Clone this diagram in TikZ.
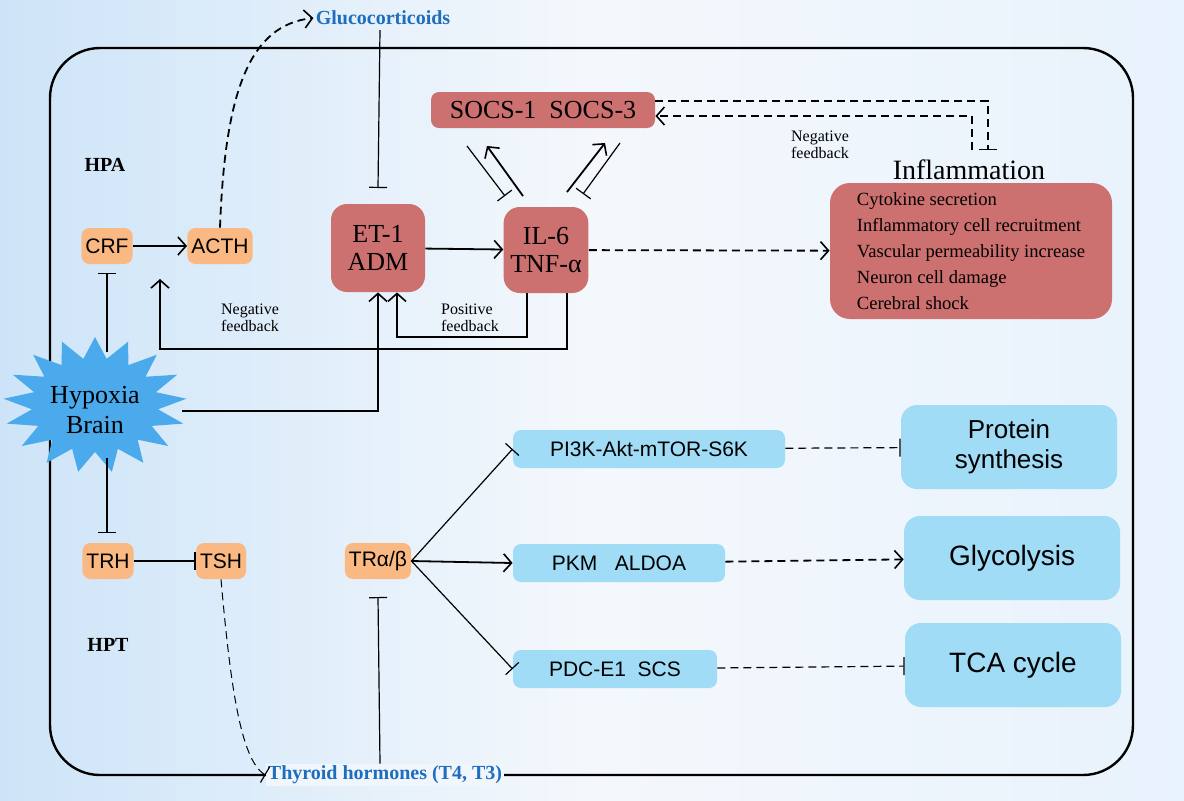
\documentclass[tikz,border=0pt]{standalone}
\usepackage{fontspec}
\setmainfont{Liberation Serif}
\setsansfont{Liberation Sans}
\usetikzlibrary{shapes.geometric, arrows, arrows.meta, positioning}
\definecolor{rosebox}{RGB}{205,112,112}
\definecolor{orangebox}{RGB}{250,185,130}
\definecolor{cyanbox}{RGB}{160,220,245}
\definecolor{starblue}{RGB}{75,170,235}
\definecolor{hormone}{RGB}{30,110,190}
\definecolor{paper}{RGB}{240,246,252}
\tikzstyle{cytokine} = [rectangle, rounded corners=8pt, fill=rosebox, text centered, font=\fontsize{13}{14}\selectfont]
\tikzstyle{gland} = [rectangle, rounded corners=4pt, fill=orangebox, minimum height=18pt, inner xsep=2pt, font=\sffamily\fontsize{10.5}{12}\selectfont]
\tikzstyle{route} = [rectangle, rounded corners=4pt, fill=cyanbox, minimum height=19pt, font=\sffamily\fontsize{10.5}{12}\selectfont]
\tikzstyle{result} = [rectangle, rounded corners=8pt, fill=cyanbox, minimum width=108pt, minimum height=42pt, align=center, font=\sffamily\fontsize{13}{15}\selectfont]
\tikzstyle{note} = [align=left, font=\fontsize{8}{8.5}\selectfont]
\tikzstyle{open} = [line width=0.9pt, -{Straight Barb[length=4pt,width=9pt,line width=0.8pt]}]
\tikzstyle{block} = [line width=0.6pt, -{Bar[width=9pt,line width=0.6pt]}]
\tikzstyle{dotted line} = [dash pattern=on 4pt off 2.5pt]
\begin{document}
\begin{tikzpicture}[x=0.5pt,y=-0.5pt]
\shade[left color={rgb,255:red,205;green,228;blue,248}, right color={rgb,255:red,232;green,242;blue,252}, middle color={rgb,255:red,244;green,248;blue,252}] (0,0) rectangle (1184,800);
\draw[line width=1.2pt, rounded corners=25pt] (50,48) rectangle (1133,775);

% nodes
\node (gluc) [text=hormone, inner sep=1pt, font=\bfseries\fontsize{10}{12}\selectfont] at (383,18) {Glucocorticoids};
\node (thy) [text=hormone, fill=paper, inner sep=1pt, font=\bfseries\fontsize{10}{12}\selectfont] at (385,775) {Thyroid hormones (T4, T3)};
\node [font=\bfseries\fontsize{10}{12}\selectfont] at (105,165) {HPA};
\node [font=\bfseries\fontsize{10}{12}\selectfont] at (108,645) {HPT};
\node (crf) [gland] at (107,246) {CRF};
\node (acth) [gland] at (220,246) {ACTH};
\node (trh) [gland] at (108,561) {TRH};
\node (tsh) [gland] at (221,561) {TSH};
\node (tr) [gland] at (378,561) {TRα/β};
\node [star, star points=17, star point ratio=1.45, fill=starblue, minimum size=68pt, xscale=1.35] at (95,405) {};
\node (hyp) [align=center, font=\fontsize{13}{15}\selectfont, minimum width=90pt] at (95,410) {Hypoxia\\Brain};
\node (et) [cytokine, minimum width=47pt, minimum height=44pt, align=center] at (378,248) {ET-1\\ADM};
\node (il) [cytokine, minimum width=40pt, minimum height=43pt, align=center] at (546,250) {IL-6\\TNF-α};
\node (socs) [cytokine, rounded corners=4pt, minimum width=112pt, minimum height=18pt] at (543,110) {SOCS-1\ \ SOCS-3};
\node (infl) [cytokine, rounded corners=10pt, minimum width=141pt, minimum height=68pt, align=left, font=\fontsize{9.3}{13}\selectfont] at (971,251) {Cytokine secretion\\Inflammatory cell recruitment\\Vascular permeability increase\\Neuron cell damage\\Cerebral shock};
\node (title) [font=\fontsize{14}{16}\selectfont, inner sep=1pt] at (969,170) {Inflammation};
\node (pi3k) [route, minimum width=136pt] at (649,449) {PI3K-Akt-mTOR-S6K};
\node (pkm) [route, minimum width=106pt] at (619,563) {PKM\ \ \ ALDOA};
\node (pdc) [route, minimum width=102pt] at (615,669) {PDC-E1\ \ SCS};
\node (prot) [result] at (1009,447) {Protein\\synthesis};
\node (glyc) [result, font=\sffamily\fontsize{14}{16}\selectfont] at (1012,558) {Glycolysis};
\node (tca) [result, font=\sffamily\fontsize{14}{16}\selectfont] at (1013,665) {TCA cycle};
\node [note] at (250,318) {Negative\\feedback};
\node [note] at (470,318) {Positive\\feedback};
\node [note] at (820,145) {Negative\\feedback};

% connectors
\draw [open] (crf) -- (acth);
\draw [block] (107,352) -- (107,273);
\draw [block] (107,458) -- (107,533);
\draw [block] (trh) -- (tsh.west);
\draw [open] (182,411) -| (et.south);
\draw [open] (il.south -| 567,0) |- (160,349) -- (160,279);
\draw [open] (il.south -| 527,0) |- (397,337) -- (et.south -| 397,0);
\draw [open] (et) -- (il);
\draw [open, dotted line] (il) -- (infl);
\draw [open] (523,196) -- (487,146);
\draw [block] (467,146) -- (505,196);
\draw [open] (567,192) -- (605,143);
\draw [block] (620,143) -- (583,194);
\draw [block, dotted line] (socs.east |- 0,101) -| (988,150);
\draw [open, dotted line] (972,150) |- (socs.east |- 0,116);
\draw [block] (380,30) -- (et.north |- 0,188);
\draw [open, dotted line] (acth.north) .. controls (225,90) and (250,25) .. (gluc.west);
\draw [block, dotted line, line width=0.5pt] (tsh.south) .. controls (230,680) and (240,760) .. (thy.west);
\draw [block] (thy.north -| 380,0) -- (tr.south |- 0,597);
\draw [block] (tr.east) -- (pi3k.west);
\draw [open] (tr.east) -- (pkm.west);
\draw [block] (tr.east) -- (pdc.west);
\draw [block, dotted line] (pi3k) -- (prot);
\draw [open, dotted line] (pkm) -- (glyc);
\draw [block, dotted line] (pdc) -- (tca);
\end{tikzpicture}
\end{document}
